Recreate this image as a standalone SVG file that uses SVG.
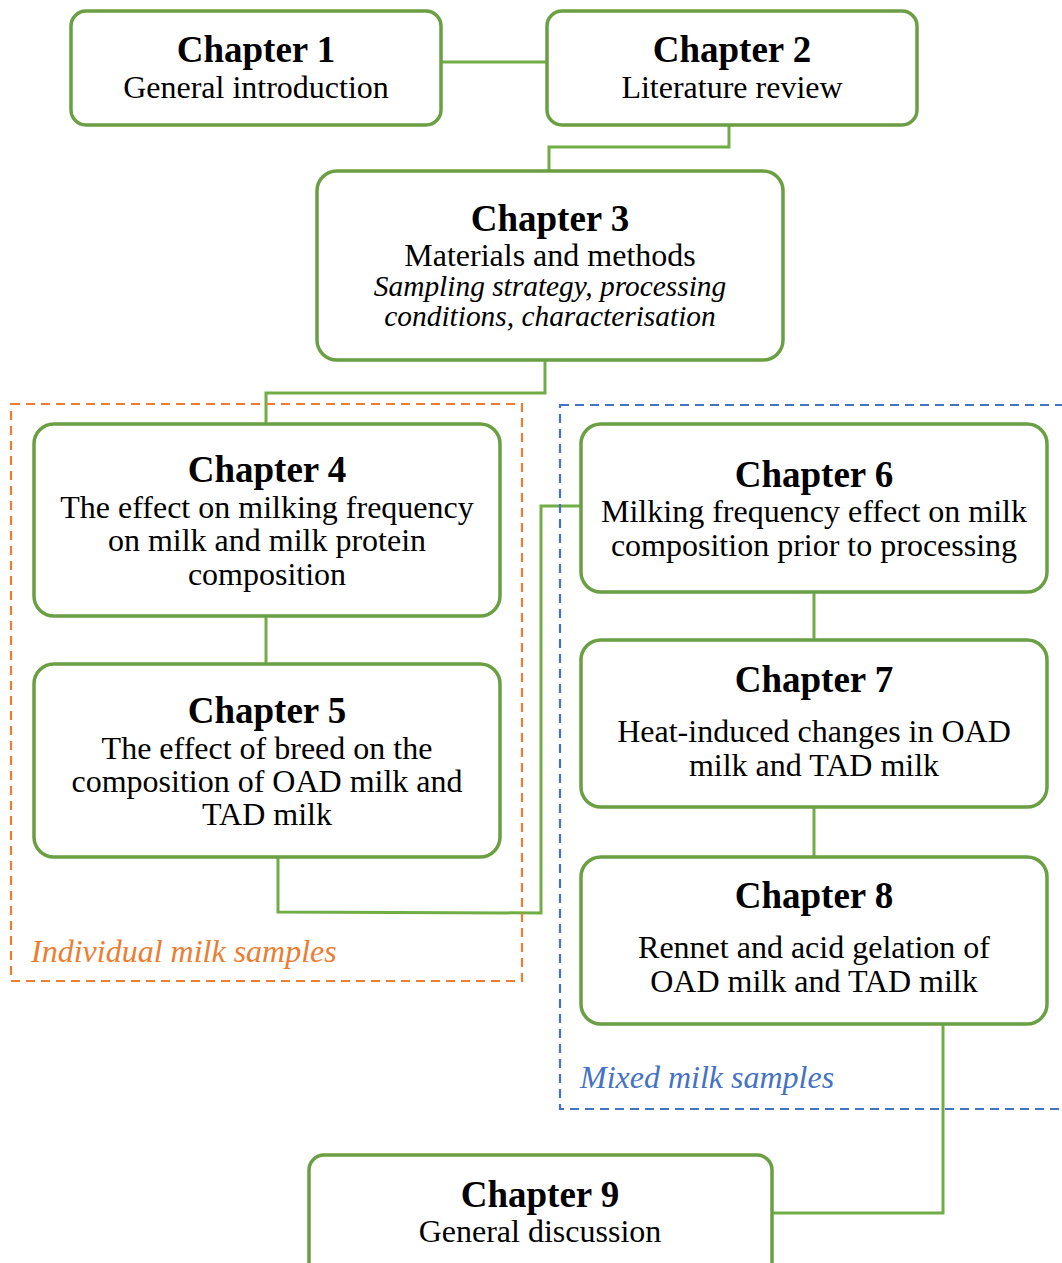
<svg xmlns="http://www.w3.org/2000/svg" width="1062" height="1263" viewBox="0 0 1062 1263" font-family="'Liberation Serif', 'Times New Roman', serif">
<style>
.node{fill:#fff;stroke:#6a9f42;stroke-width:3.5}
.conn{fill:none;stroke:#70ad47;stroke-width:3}
.t{font-weight:bold;font-size:37px;text-anchor:middle;fill:#000}
.b{font-size:32px;text-anchor:middle;fill:#000}
.i{font-style:italic;font-size:29.4px;text-anchor:middle;fill:#000}
.grp{fill:none;stroke-width:2.2;stroke-dasharray:9 6}
.lbl{font-style:italic;font-size:32px}
</style>
<rect width="1062" height="1263" fill="#fff"/>
<g id="connectors">
<path class="conn" d="M441 62H547"/>
<path class="conn" d="M729 125V147H549V171"/>
<path class="conn" d="M545 360V393H266V424"/>
<path class="conn" d="M266 616V664"/>
<path class="conn" d="M278 857V912L541 913V506H581"/>
<path class="conn" d="M814 592V640"/>
<path class="conn" d="M814 807V857"/>
<path class="conn" d="M943 1024V1213H772"/>
</g>
<g id="group-individual">
<rect class="grp" x="11" y="404" width="511" height="577" stroke="#ed7d31"/>
<text class="lbl" x="31" y="962" fill="#ed7d31">Individual milk samples</text>
</g>
<g id="group-mixed">
<rect class="grp" x="560" y="405" width="520" height="704" stroke="#4472c4"/>
<text class="lbl" x="580" y="1088" fill="#4472c4">Mixed milk samples</text>
</g>
<g id="ch1">
<rect class="node" x="71" y="11" width="370" height="114" rx="15"/>
<text class="t" x="256" y="62">Chapter 1</text>
<text class="b" x="256" y="98">General introduction</text>
</g>
<g id="ch2">
<rect class="node" x="547" y="11" width="370" height="114" rx="15"/>
<text class="t" x="732" y="62">Chapter 2</text>
<text class="b" x="732" y="98">Literature review</text>
</g>
<g id="ch3">
<rect class="node" x="317" y="171" width="466" height="189" rx="20"/>
<text class="t" x="550" y="231">Chapter 3</text>
<text class="b" x="550" y="266">Materials and methods</text>
<text class="i" x="550" y="296">Sampling strategy, processing</text>
<text class="i" x="550" y="326">conditions, characterisation</text>
</g>
<g id="ch4">
<rect class="node" x="34" y="424" width="466" height="192" rx="20"/>
<text class="t" x="267" y="482">Chapter 4</text>
<text class="b" x="267" y="518">The effect on milking frequency</text>
<text class="b" x="267" y="551">on milk and milk protein</text>
<text class="b" x="267" y="585">composition</text>
</g>
<g id="ch5">
<rect class="node" x="34" y="664" width="466" height="193" rx="20"/>
<text class="t" x="267" y="723">Chapter 5</text>
<text class="b" x="267" y="759">The effect of breed on the</text>
<text class="b" x="267" y="792">composition of OAD milk and</text>
<text class="b" x="267" y="825">TAD milk</text>
</g>
<g id="ch6">
<rect class="node" x="581" y="424" width="466" height="168" rx="20"/>
<text class="t" x="814" y="487">Chapter 6</text>
<text class="b" x="814" y="522">Milking frequency effect on milk</text>
<text class="b" x="814" y="556">composition prior to processing</text>
</g>
<g id="ch7">
<rect class="node" x="581" y="640" width="466" height="167" rx="20"/>
<text class="t" x="814" y="692">Chapter 7</text>
<text class="b" x="814" y="742">Heat-induced changes in OAD</text>
<text class="b" x="814" y="776">milk and TAD milk</text>
</g>
<g id="ch8">
<rect class="node" x="581" y="857" width="466" height="167" rx="20"/>
<text class="t" x="814" y="908">Chapter 8</text>
<text class="b" x="814" y="958">Rennet and acid gelation of</text>
<text class="b" x="814" y="992">OAD milk and TAD milk</text>
</g>
<g id="ch9">
<rect class="node" x="309" y="1155" width="463" height="150" rx="15"/>
<text class="t" x="540" y="1207">Chapter 9</text>
<text class="b" x="540" y="1242">General discussion</text>
</g>
</svg>
